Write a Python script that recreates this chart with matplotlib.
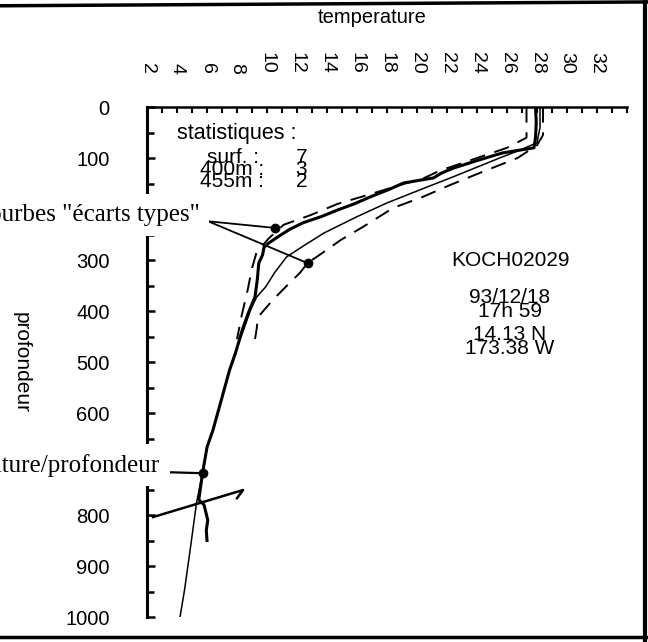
#!/usr/bin/env python3
# XBT profile sheet: temperature vs depth, with the climatology mean and
# the two "standard deviation" curves
import matplotlib
matplotlib.use("Agg")
import matplotlib.pyplot as plt
from matplotlib.lines import Line2D
from matplotlib.ticker import MultipleLocator

# measured profile (thick line)
meas_temp = [27.9, 27.95, 27.9, 27.8, 25.7, 24.0, 22.4, 21.6, 21.1, 20.3, 19.1,
             18.1, 16.9, 15.8, 14.7, 13.6, 12.4, 11.5, 10.7, 10.1, 9.8, 9.7,
             9.45, 9.35, 9.2, 8.75, 8.35, 7.9, 7.5, 7.2, 6.9, 6.4, 6.0, 5.7,
             5.45, 5.8, 6.05, 5.95, 6.0]
meas_depth = [0, 30, 60, 80, 90, 105, 120, 130, 139, 143, 149,
              162, 176, 190, 202, 215, 227, 240, 255, 267, 275, 290,
              306, 339, 372, 404, 437, 482, 516, 548, 580, 633, 667, 718,
              770, 780, 810, 830, 850]

# wire spike near 780 m
spike_temp = [2.4, 8.4, 8.0]
spike_depth = [804, 751, 767]

# climatology mean (thin line)
mean_temp = [28.2, 28.2, 28.0, 26.9, 25.5, 22.4, 20.4, 18.0, 16.0, 13.8,
             12.5, 11.3, 10.5, 9.9, 9.3, 8.9, 8.4, 7.9, 7.5, 6.9, 6.4, 6.0,
             5.7, 5.3, 4.9, 4.5, 4.2]
mean_depth = [0, 40, 70, 84, 100, 137, 160, 188, 215, 247,
              271, 294, 325, 353, 373, 398, 440, 480, 516, 580, 633, 667,
              718, 776, 863, 947, 1000]

# "ecarts types" curves (dashed)
cold_temp = [27.3, 27.3, 26.0, 23.5, 21.5, 20.2, 19.3, 17.1, 14.7, 12.9,
             11.1, 10.1, 9.3, 9.0, 8.7, 8.3, 8.0]
cold_depth = [0, 60, 80, 105, 125, 143, 149, 169, 190, 212,
              231, 258, 285, 316, 360, 410, 455]
warm_temp = [28.4, 28.4, 28.0, 26.7, 24.2, 22.2, 20.4, 18.4, 16.4, 14.9,
             13.7, 12.7, 12.2, 11.5, 10.7, 10.1, 9.4, 9.3, 9.2]
warm_depth = [0, 55, 75, 100, 129, 153, 176, 198, 235, 261,
              286, 306, 325, 345, 369, 388, 412, 437, 455]

# points picked out by the annotations
dots_temp = [10.5, 12.7, 5.7]
dots_depth = [237, 306, 718]

temp_ticks = list(range(2, 33, 2))
depth_ticks = list(range(0, 1001, 100))

stat_names = ["surf. :", "400m :", "455m :"]
stat_counts = ["7", "3", "2"]
station_info = ["93/12/18", "17h 59", "14.13 N", "173.38 W"]
station_depth = [373, 401, 446, 474]

SANS = ["Liberation Sans", "DejaVu Sans"]
SERIF = ["Liberation Serif", "DejaVu Serif"]


def main():
    plt.rcParams["font.family"] = SANS
    fig = plt.figure(figsize=(6.48, 6.42), dpi=100)
    ax = fig.add_axes([0.2269, 0.0389, 0.7407, 0.7944])

    ax.plot(mean_temp, mean_depth, color="black", lw=1.1)
    ax.plot(cold_temp, cold_depth, color="black", lw=1.4, ls=(0, (8, 5)))
    ax.plot(warm_temp, warm_depth, color="black", lw=1.4, ls=(0, (8, 5)))
    ax.plot(meas_temp, meas_depth, color="black", lw=2.2)
    ax.plot(spike_temp, spike_depth, color="black", lw=1.8)
    ax.plot(dots_temp, dots_depth, "o", color="black", ms=6)

    ax.set_xlim(2, 34)
    ax.set_ylim(1000, 0)

    # axis dressing: only top and left spines, inward ticks
    ax.spines["right"].set_visible(False)
    ax.spines["bottom"].set_visible(False)
    ax.spines["left"].set_linewidth(2.2)
    ax.spines["top"].set_linewidth(1.8)
    ax.xaxis.tick_top()
    ax.set_xticks(temp_ticks)
    ax.set_xticklabels([str(t) for t in temp_ticks], rotation=-90)
    ax.xaxis.set_minor_locator(MultipleLocator(1))
    ax.set_yticks(depth_ticks)
    ax.yaxis.set_minor_locator(MultipleLocator(50))
    ax.tick_params(axis="x", which="both", direction="in", length=4,
                   width=1.5, pad=24, labelsize=14)
    ax.tick_params(axis="y", which="major", direction="in", length=6,
                   width=1.8, pad=27, labelsize=14.5)
    ax.tick_params(axis="y", which="minor", direction="in", length=5,
                   width=1.8)

    fig.text(0.574, 0.972, "temperature", ha="center", va="center",
             fontsize=14.5)
    fig.text(0.032, 0.436, "profondeur", ha="center", va="center",
             rotation=-90, fontsize=15)

    # statistics block
    ax.text(4.0, 51, "statistiques :", fontsize=15.5, va="center")
    for i, (name, count) in enumerate(zip(stat_names, stat_counts)):
        z = 98 + 24 * i
        x0 = 6.0 if i == 0 else 5.5
        ax.text(x0, z, name, fontsize=15, va="center")
        ax.text(11.9, z, count, fontsize=15, va="center")

    # station block
    ax.text(26.2, 300, "KOCH02029", fontsize=15, ha="center", va="center")
    for line, z in zip(station_info, station_depth):
        ax.text(26.2, z, line, fontsize=15, ha="center", va="center")

    # annotations (serif, white box hides spine under them)
    box = dict(facecolor="white", edgecolor="none", pad=7)
    ax.text(5.5, 212, 'courbes "écarts types"', family=SERIF, fontsize=18,
            ha="right", va="center", bbox=box, clip_on=False, zorder=5)
    ax.plot([6.07, dots_temp[0]], [224, dots_depth[0]], color="black", lw=1.3)
    ax.plot([6.07, dots_temp[1]], [224, dots_depth[1]], color="black", lw=1.3)
    ax.text(2.85, 702, "température/profondeur", family=SERIF, fontsize=18,
            ha="right", va="center", bbox=box, clip_on=False, zorder=5)
    ax.plot([3.33, dots_temp[2]], [716, dots_depth[2]], color="black", lw=1.6)

    # scanned sheet frame
    fig.add_artist(Line2D([0, 1], [0.991, 0.997], transform=fig.transFigure,
                          color="black", lw=2.5))
    fig.add_artist(Line2D([0.995, 0.995], [0, 1], transform=fig.transFigure,
                          color="black", lw=3))
    fig.add_artist(Line2D([0, 1], [0.008, 0.008], transform=fig.transFigure,
                          color="black", lw=2.5))

    fig.savefig("out.png", dpi=100)


if __name__ == "__main__":
    main()
